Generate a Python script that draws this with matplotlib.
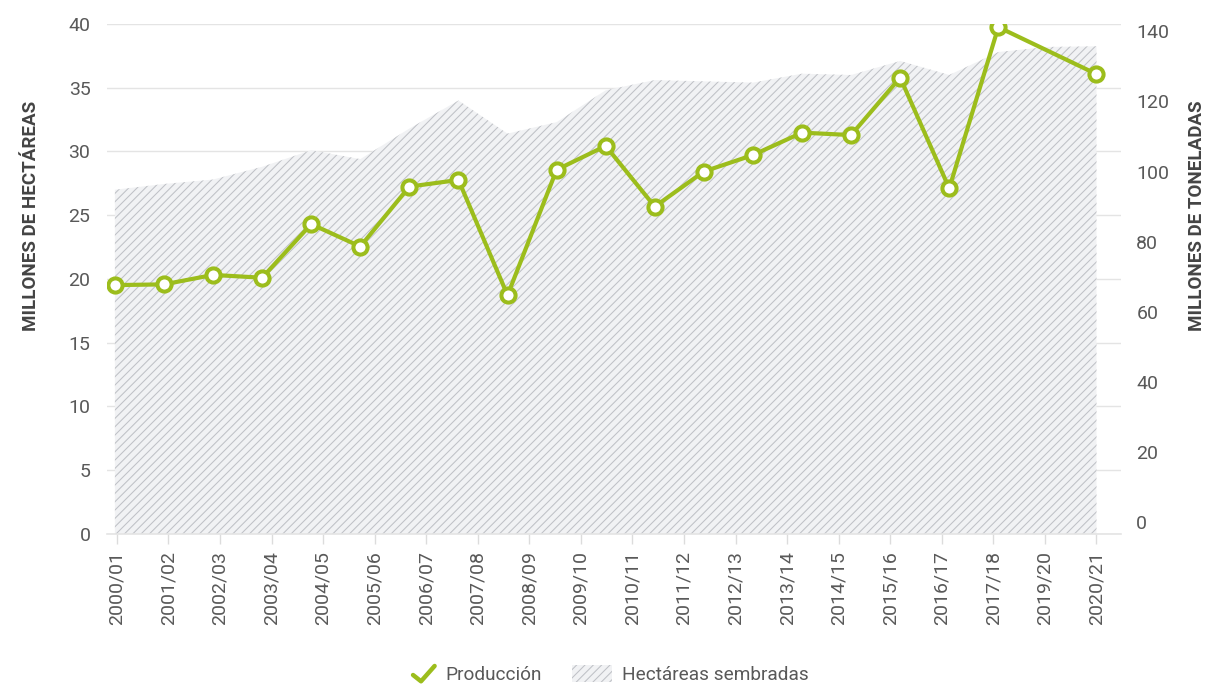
import numpy as np
import matplotlib
matplotlib.use("Agg")
import matplotlib.pyplot as plt
from matplotlib.lines import Line2D
from matplotlib.patches import Patch
from matplotlib.legend_handler import HandlerBase

# ---------------- data ----------------
seasons = ['2000/01', '2001/02', '2002/03', '2003/04', '2004/05', '2005/06', '2006/07',
           '2007/08', '2008/09', '2009/10', '2010/11', '2011/12', '2012/13', '2013/14',
           '2014/15', '2015/16', '2016/17', '2017/18', '2018/19', '2019/20', '2020/21']
hectareas = [27.0, 27.45, 27.8, 28.8, 30.1, 29.4, 31.8, 34.0, 31.4, 32.3, 34.8,
             35.6, 35.5, 35.4, 36.1, 36.0, 37.1, 36.0, 37.8, 38.2, 38.25]
produccion = [67.6, 67.8, 70.5, 69.7, 85.0, 78.6, 95.7, 97.6, 64.7, 100.5, 107.3,
              90.0, 100.0, 104.7, 111.1, 110.4, 126.8, 95.2, 141.2, np.nan, 127.8]
tick_labels = ['2000/01', '2001/02', '2002/03', '2003/04', '2004/05', '2005/06', '2006/07',
               '2007/08', '2008/09', '2009/10', '2010/11', '2011/12', '2012/13', '2013/14',
               '2014/15', '2015/16', '2016/17', '2017/18', '2019/20', '2020/21']
left_ticks = [0, 5, 10, 15, 20, 25, 30, 35, 40]
right_ticks = [0, 20, 40, 60, 80, 100, 120, 140]

# ---------------- style ----------------
GREEN = '#9cbd1c'
TXT = '#595959'
TITLE = '#444444'
GRID = '#e4e4e4'
FILL = '#f1f2f4'
HATCH = '#bfc1c6'
FONT = 'Roboto'

plt.rcParams['font.family'] = [FONT, 'DejaVu Sans']
plt.rcParams['hatch.linewidth'] = 0.75

fig = plt.figure(figsize=(12.11, 6.87), dpi=100)
ax = fig.add_axes([0.0884, 0.2227, 0.8373, 0.7424])
ax2 = ax.twinx()

x_all = np.arange(len(seasons))
ax.fill_between(x_all, 0, hectareas, facecolor=FILL, edgecolor=HATCH,
                hatch='////', linewidth=0, zorder=2)

prod = np.array(produccion, dtype=float)
mask = ~np.isnan(prod)
ax2.plot(x_all[mask], prod[mask], color=GREEN, lw=3.0, marker='o', ms=10.2,
         mew=2.9, mfc='white', mec=GREEN, zorder=5, solid_joinstyle='round')

# axes limits
ax.set_xlim(-0.16, 20.5)
ax.set_ylim(0, 40)
ax2.set_ylim(-3.42, 142.1)

# ticks
ax.set_yticks(left_ticks)
ax.set_yticklabels([str(t) for t in left_ticks])
ax2.set_yticks(right_ticks)
ax2.set_yticklabels([str(t) for t in right_ticks])
ax.set_xticks(np.linspace(0.04, 20, len(tick_labels)))
ax.set_xticklabels(tick_labels, rotation=90)

ax.grid(axis='y', color=GRID, lw=1.0, zorder=0)
ax.set_axisbelow(True)
for a in (ax, ax2):
    for s in a.spines.values():
        s.set_visible(False)
ax.spines['bottom'].set_visible(True)
ax.spines['bottom'].set_color(GRID)
ax.spines['bottom'].set_linewidth(1.2)

ax.tick_params(axis='y', length=0, pad=12, labelsize=14, labelcolor=TXT)
ax2.tick_params(axis='y', length=0, pad=11, labelsize=14, labelcolor=TXT)
ax.tick_params(axis='x', length=7, width=1, color='#dcdcdc', pad=5,
               labelsize=14, labelcolor=TXT)

ax.set_ylabel('MILLONES DE HECTÁREAS', fontsize=13.5, fontweight='bold',
              color=TITLE)
ax2.set_ylabel('MILLONES DE TONELADAS', fontsize=13.5, fontweight='bold',
               color=TITLE)
ax.yaxis.set_label_coords(-0.066, 0.624)
ax2.yaxis.set_label_coords(1.066, 0.624)


# ---------------- legend ----------------
class HandlerCheck(HandlerBase):
    def create_artists(self, legend, orig_handle, xdescent, ydescent,
                       width, height, fontsize, trans):
        xs = np.array([0.46, 0.66, 1.0]) * width - xdescent
        ys = np.array([0.42, 0.05, 0.95]) * height - ydescent
        ln = Line2D(xs, ys, color=GREEN, lw=3.2, solid_capstyle='round',
                    solid_joinstyle='round', transform=trans)
        return [ln]


check_handle = Line2D([], [], color=GREEN)
area_handle = Patch(facecolor=FILL, edgecolor=HATCH, hatch='////', linewidth=0)
leg = fig.legend([check_handle, area_handle], ['Producción', 'Hectáreas sembradas'],
                 handler_map={check_handle: HandlerCheck()},
                 loc='center', bbox_to_anchor=(0.497, 0.018), ncol=2, frameon=False,
                 fontsize=13.7, handlelength=2.1, handleheight=1.0,
                 handletextpad=0.55, columnspacing=1.6)
for t in leg.get_texts():
    t.set_color(TXT)

fig.savefig('out.png', dpi=100)
